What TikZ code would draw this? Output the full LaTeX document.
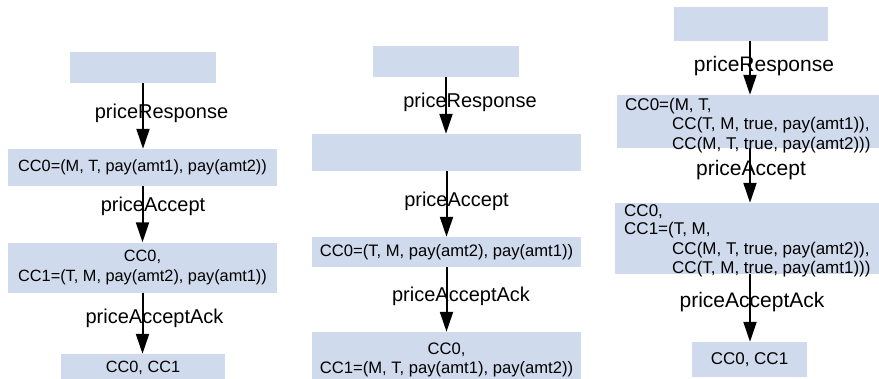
\documentclass[tikz,border=0pt]{standalone}
\usepackage{fontspec}
\setmainfont{Liberation Sans}
\usetikzlibrary{arrows.meta}
\definecolor{boxblue}{RGB}{207,218,236}
\begin{document}
\begin{tikzpicture}[x=1pt,y=-1pt,
  box/.style={fill=boxblue, draw=none, inner sep=0pt, align=center},
  fa/.style={font=\fontsize{16.3}{20}\selectfont},
  fb/.style={font=\fontsize{16.6}{18.5}\selectfont},
  fc/.style={font=\fontsize{17}{19.5}\selectfont},
  lbl/.style={inner sep=0pt, font=\fontsize{20}{24}\selectfont},
  lblc/.style={inner sep=0pt, font=\fontsize{21}{25}\selectfont},
  txt/.style={inner sep=0pt, anchor=base west, fc},
  flow/.style={line width=2pt, -{Triangle[length=20pt,width=13pt]}}]
\useasboundingbox (0,0) rectangle (879,378);
\clip (0,0) rectangle (879,378);

% ---------- left column ----------
\node[box, minimum width=146pt, minimum height=31pt] (l1) at (143,67.5) {};
\node[box, fa, minimum width=269pt, minimum height=37pt] (l2) at (142.5,167.5) {CC0=(M, T, pay(amt1), pay(amt2))};
\node[box, fa, minimum width=269pt, minimum height=50pt] (l3) at (142.5,267.5) {CC0,\\CC1=(T, M, pay(amt2), pay(amt1))};
\node[box, fa, minimum width=164pt, minimum height=28pt] (l4) at (143,368) {CC0, CC1};
\draw[flow] (l1.south) -- (l1.south |- l2.north);
\draw[flow] (l2.south) -- (l2.south |- l3.north);
\draw[flow] (l3.south) -- (l3.south |- l4.north);
\node[lbl] (la) at (161.5,113) {priceResponse};
\node[lbl] (lb) at (153,206) {priceAccept};
\node[lbl] (lc) at (154.5,318) {priceAcceptAck};

% ---------- middle column ----------
\node[box, minimum width=146pt, minimum height=31pt] (m1) at (446,61.5) {};
\node[box, minimum width=269pt, minimum height=37pt] (m2) at (446.5,152.5) {};
\node[box, fb, minimum width=269pt, minimum height=30pt] (m3) at (446.5,252) {CC0=(T, M, pay(amt2), pay(amt1))};
\node[box, fb, minimum width=269pt, minimum height=56pt] (m4) at (446.5,360) {CC0,\\CC1=(M, T, pay(amt1), pay(amt2))};
\draw[flow] (m1.south) -- (m1.south |- m2.north);
\draw[flow] (m2.south) -- (m2.south |- m3.north);
\draw[flow] (m3.south) -- (m3.south |- m4.north);
\node[lbl] (ma) at (470,102) {priceResponse};
\node[lbl] (mb) at (456.5,201) {priceAccept};
\node[lbl] (mc) at (461,296) {priceAcceptAck};

% ---------- right column ----------
\coordinate (rx) at (750,0);
\node[box, minimum width=154pt, minimum height=34pt] (r1) at (751,24) {};
\node[box, minimum width=272pt, minimum height=53pt] (r2) at (753,121.5) {};
\node[box, minimum width=274pt, minimum height=71pt] (r3) at (752,238.5) {};
\node[box, fc, minimum width=115pt, minimum height=35pt] (r4) at (749.5,359.5) {CC0, CC1};
\node[txt] (r2a) at (625,110) {CC0=(M, T,};
\node[txt] (r2b) at (672,129.5) {CC(T, M, true, pay(amt1)),};
\node[txt] (r2c) at (672,149) {CC(M, T, true, pay(amt2)))};
\node[txt] (r3a) at (624,216) {CC0,};
\node[txt] (r3b) at (624,234) {CC1=(T, M,};
\node[txt] (r3c) at (672,254) {CC(M, T, true, pay(amt2)),};
\node[txt] (r3d) at (672,273) {CC(T, M, true, pay(amt1)))};
\draw[flow] (r1.south -| rx) -- (r2.north -| rx);
\draw[flow] (r2.south -| rx) -- (r3.north -| rx);
\draw[flow] (r3.south -| rx) -- (r4.north -| rx);
\node[lblc] (ra) at (764,66) {priceResponse};
\node[lblc] (rb) at (751,170) {priceAccept};
\node[lblc] (rc) at (752,302) {priceAcceptAck};
\end{tikzpicture}
\end{document}
